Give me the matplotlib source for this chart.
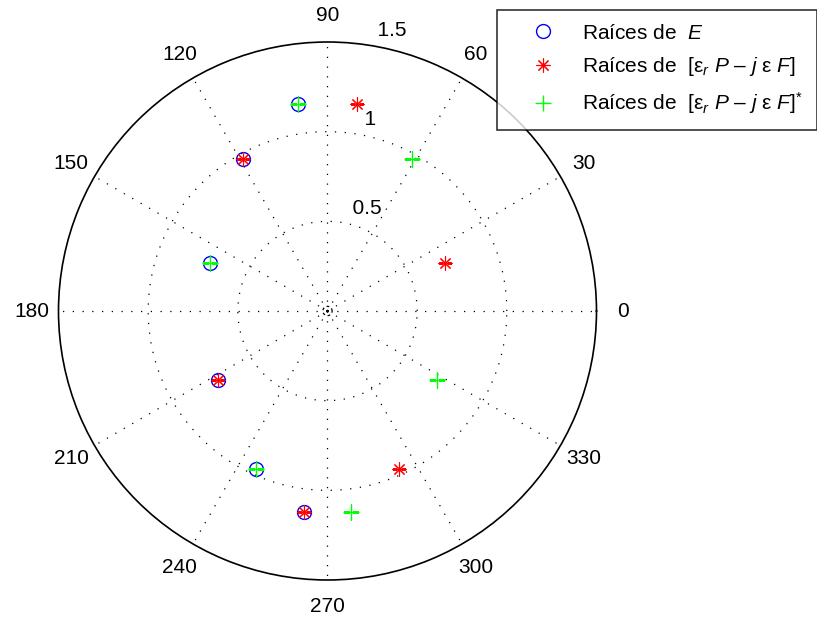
import numpy as np
import matplotlib
matplotlib.use("Agg")
import matplotlib.pyplot as plt

plt.rcParams['font.family'] = ['Liberation Sans', 'DejaVu Sans']
plt.rcParams['mathtext.fontset'] = 'custom'
plt.rcParams['mathtext.rm'] = 'Liberation Sans'
plt.rcParams['mathtext.it'] = 'Liberation Sans:italic'
plt.rcParams['mathtext.sf'] = 'Liberation Sans'

# Roots (angle in degrees, modulus)
e_ang = [98.0, 119.2, 157.9, 212.4, 245.7, 263.3]
e_mod = [1.163, 0.969, 0.707, 0.722, 0.968, 1.130]

p_ang = [82.0, 119.2, 22.1, 212.4, 294.3, 263.3]
p_mod = [1.163, 0.969, 0.707, 0.722, 0.968, 1.130]

c_ang = [98.0, 60.8, 157.9, 327.6, 245.7, 276.7]
c_mod = [1.163, 0.969, 0.707, 0.722, 0.968, 1.130]

rmax = 1.5
rings = [0.5, 1.0, 1.5]
spokes = list(range(0, 360, 30))

labels = [r'Raíces de  $E$',
          r'Raíces de  $[\mathrm{ε}_{r}\ P\ \mathrm{–}\ j\ \mathrm{ε}\ F]$',
          r'Raíces de  $[\mathrm{ε}_{r}\ P\ \mathrm{–}\ j\ \mathrm{ε}\ F]^{*}$']

fig = plt.figure(figsize=(8.17, 6.23), dpi=100)
ax = fig.add_axes([0.0716, 0.069, 0.6585, 0.8636], projection='polar')
ax.set_ylim(0, rmax)
ax.set_xticks([])
ax.set_yticks([])
ax.grid(False)
ax.spines['polar'].set_color('black')
ax.spines['polar'].set_linewidth(1.2)

dots = (0, (1, 6.8))
th = np.linspace(0, 2 * np.pi, 400)
for r in rings[:-1]:
    ax.plot(th, np.full_like(th, r), color='black', lw=0.9, ls=dots, zorder=1)
for a in spokes:
    t = np.deg2rad(a)
    ax.plot([t, t], [0, rmax], color='black', lw=0.9, ls=dots, zorder=1)
ax.plot(th, np.full_like(th, 0.026), color='black', lw=0.9, ls=(0, (2.2, 2.2)), zorder=1)

for a in spokes:
    ax.text(np.deg2rad(a), 1.1 * rmax, str(a), ha='center', va='center', fontsize=15)
for r in rings:
    ax.text(np.deg2rad(82), r + 0.025, '  ' + ('%g' % r), ha='left', va='bottom', fontsize=15)

ms = 10
h1, = ax.plot(np.deg2rad(e_ang), e_mod, ls='none', marker='o', ms=ms, mfc='none',
              mec=(0, 0, 1), mew=1.0, zorder=3)
h2, = ax.plot(np.deg2rad(p_ang), p_mod, ls='none', marker=(8, 2, 0), ms=ms,
              mec=(1, 0, 0), color=(1, 0, 0), mew=0.8, zorder=4)
h3, = ax.plot(np.deg2rad(c_ang), c_mod, ls='none', marker='+', ms=ms + 2,
              mec=(0, 1, 0), color=(0, 1, 0), mew=1.0, zorder=5)

leg = fig.legend([h1, h2, h3], labels, loc='upper left',
                 bbox_to_anchor=(497 / 817, 1 - 10 / 623), bbox_transform=fig.transFigure,
                 fontsize=15, frameon=True, fancybox=False, borderpad=0.65,
                 handlelength=3.1, handletextpad=0.35, labelspacing=0.6, borderaxespad=0)
leg.get_frame().set_edgecolor('black')
leg.get_frame().set_linewidth(1.2)

fig.savefig('out.png', dpi=100, facecolor='white')
